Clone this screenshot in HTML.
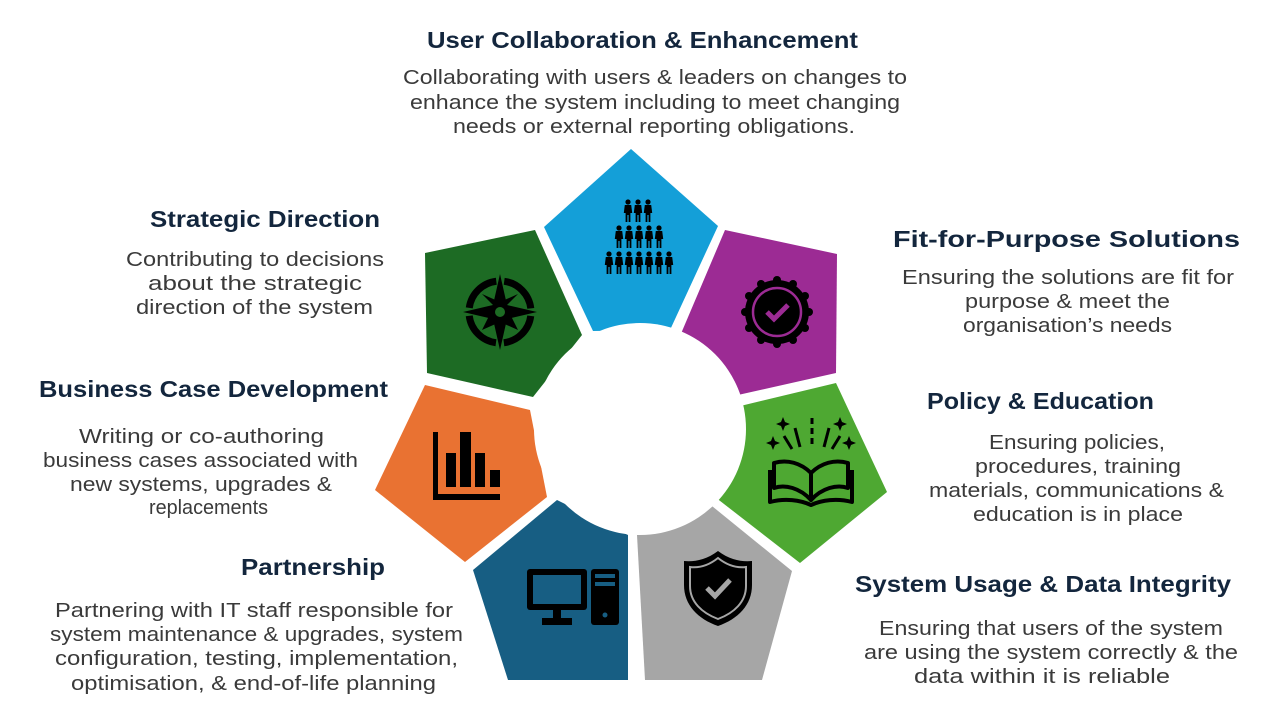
<!DOCTYPE html>
<html><head><meta charset="utf-8"><style>
html,body{margin:0;padding:0;background:#fff;}
svg{display:block;}
.h{font-family:"Liberation Sans",sans-serif;font-weight:bold;font-size:23px;fill:#13263d;}
.b{font-family:"Liberation Sans",sans-serif;font-size:20.5px;fill:#3a3a3a;}
</style></head><body>
<svg width="1280" height="720" viewBox="0 0 1280 720" xmlns="http://www.w3.org/2000/svg">
<defs>
<g id="p">
<circle cx="0" cy="0" r="2.6"/>
<path d="M-3.2,3 L3.2,3 L4.2,11 L2.4,11 L2.4,20 L0.6,20 L0.6,13 L-0.6,13 L-0.6,20 L-2.4,20 L-2.4,11 L-4.2,11 Z"/>
</g>
</defs>
<polygon points="631,149 718,226 670,330 593,331 544,227" fill="#149fd8"/>
<polygon points="725,230 837,254 836,373 729,397 680,336" fill="#9c2b94"/>
<polygon points="732,408 836,383 887,492 800,563 715,497" fill="#4ea832"/>
<polygon points="707,502 792,571 762,680 645,680 637,535" fill="#a6a6a6"/>
<polygon points="628,535 557,500 473,570 508,680 628,680" fill="#175e83"/>
<polygon points="425,385 530,410 547,497 465,562 375,490" fill="#e97232"/>
<polygon points="425,253 535,230 582,335 533,397 427,373" fill="#1d6b24"/>
<circle cx="640" cy="429" r="106" fill="#fff"/>

<g fill="#000">
<use href="#p" x="628" y="202"/><use href="#p" x="638" y="202"/><use href="#p" x="648" y="202"/>
<use href="#p" x="619" y="228"/><use href="#p" x="629" y="228"/><use href="#p" x="639" y="228"/><use href="#p" x="649" y="228"/><use href="#p" x="659" y="228"/>
<use href="#p" x="609" y="254"/><use href="#p" x="619" y="254"/><use href="#p" x="629" y="254"/><use href="#p" x="639" y="254"/><use href="#p" x="649" y="254"/><use href="#p" x="659" y="254"/><use href="#p" x="669" y="254"/>
</g>

<g transform="translate(500,312)">
<circle r="31" fill="none" stroke="#000" stroke-width="7" stroke-dasharray="40.7 8" stroke-dashoffset="-4"/>
<polygon points="0,-38 7,-7 37,0 7,7 0,38 -7,7 -37,0 -7,-7" fill="#000"/>
<polygon points="-6,-6 -18,-18 0,-10 18,-18 6,-6 18,18 0,10 -18,18" fill="#000"/>
<circle r="5" fill="#1d6b24"/>
</g>

<g transform="translate(777,312)">
<circle r="32" fill="#000"/>
<g fill="#000">
<circle cx="0" cy="-32" r="4"/><circle cx="16" cy="-28" r="4"/><circle cx="28" cy="-16" r="4"/><circle cx="32" cy="0" r="4"/><circle cx="28" cy="16" r="4"/><circle cx="16" cy="28" r="4"/><circle cx="0" cy="32" r="4"/><circle cx="-16" cy="28" r="4"/><circle cx="-28" cy="16" r="4"/><circle cx="-32" cy="0" r="4"/><circle cx="-28" cy="-16" r="4"/><circle cx="-16" cy="-28" r="4"/>
</g>
<circle r="24" fill="none" stroke="#9c2b94" stroke-width="2.5"/>
<polyline points="-10,0 -3,7 11,-7" fill="none" stroke="#9c2b94" stroke-width="5"/>
</g>

<g fill="none" stroke="#000" stroke-width="4" stroke-linejoin="round">
<path d="M811,500 C800,488 785,484 774,488 L774,463 C787,459 801,463 811,473 Z" fill="#4ea832"/>
<path d="M811,500 C822,488 837,484 848,488 L848,463 C835,459 821,463 811,473 Z" fill="#4ea832"/>
<path d="M770,470 L770,502 C785,498 800,500 811,505 C822,500 837,498 852,502 L852,470"/>
<line x1="811" y1="474" x2="811" y2="500"/>
<line x1="812" y1="418" x2="812" y2="448" stroke-dasharray="6 4" stroke-width="3"/>
<line x1="795" y1="428" x2="800" y2="447" stroke-width="3"/>
<line x1="829" y1="428" x2="824" y2="447" stroke-width="3"/>
<line x1="784" y1="436" x2="792" y2="449" stroke-width="3"/>
<line x1="840" y1="436" x2="832" y2="449" stroke-width="3"/>
</g>
<g fill="#000">
<polygon points="783,417 785,422 790,424 785,426 783,431 781,426 776,424 781,422"/>
<polygon points="840,417 842,422 847,424 842,426 840,431 838,426 833,424 838,422"/>
<polygon points="773,436 775,441 780,443 775,445 773,450 771,445 766,443 771,441"/>
<polygon points="849,436 851,441 856,443 851,445 849,450 847,445 842,443 847,441"/>
</g>

<path d="M718,551 C730,560 742,562 752,561 L752,585 C752,605 738,619 718,626 C698,619 684,605 684,585 L684,561 C694,562 706,560 718,551 Z" fill="#000"/>
<path d="M718,558 C728,566 738,568 746,567 L746,586 C746,602 734,613 718,619 C702,613 690,602 690,586 L690,567 C698,568 708,566 718,558 Z" fill="none" stroke="#a6a6a6" stroke-width="2"/>
<polyline points="707,588 715,596 730,580" fill="none" stroke="#a6a6a6" stroke-width="5"/>

<rect x="527" y="569" width="60" height="41" rx="3" fill="#000"/>
<rect x="533" y="575" width="48" height="29" fill="#175e83"/>
<rect x="553" y="609" width="8" height="10" fill="#000"/>
<rect x="542" y="618" width="30" height="7" fill="#000"/>
<rect x="591" y="569" width="28" height="56" rx="3" fill="#000"/>
<rect x="595" y="574" width="20" height="4" fill="#175e83"/>
<rect x="595" y="582" width="20" height="4" fill="#175e83"/>
<circle cx="605" cy="615" r="2.5" fill="#175e83"/>

<g fill="#000">
<rect x="433" y="432" width="5" height="68"/>
<rect x="433" y="494" width="67" height="6"/>
<rect x="446" y="453" width="10" height="34"/>
<rect x="460" y="432" width="11" height="55"/>
<rect x="475" y="453" width="10" height="34"/>
<rect x="490" y="470" width="10" height="17"/>
</g>

<text class="h" x="427" y="48" textLength="431" lengthAdjust="spacingAndGlyphs">User Collaboration &amp; Enhancement</text>
<text class="b" x="403" y="84" textLength="504" lengthAdjust="spacingAndGlyphs">Collaborating with users &amp; leaders on changes to</text>
<text class="b" x="410" y="109" textLength="490" lengthAdjust="spacingAndGlyphs">enhance the system including to meet changing</text>
<text class="b" x="453" y="133" textLength="402" lengthAdjust="spacingAndGlyphs">needs or external reporting obligations.</text>

<text class="h" x="150" y="227" textLength="230" lengthAdjust="spacingAndGlyphs">Strategic Direction</text>
<text class="b" x="126" y="266" textLength="258" lengthAdjust="spacingAndGlyphs">Contributing to decisions</text>
<text class="b" x="148" y="290" textLength="214" lengthAdjust="spacingAndGlyphs">about the strategic</text>
<text class="b" x="136" y="314" textLength="237" lengthAdjust="spacingAndGlyphs">direction of the system</text>

<text class="h" x="893" y="247" textLength="347" lengthAdjust="spacingAndGlyphs">Fit-for-Purpose Solutions</text>
<text class="b" x="902" y="284" textLength="332" lengthAdjust="spacingAndGlyphs">Ensuring the solutions are fit for</text>
<text class="b" x="965" y="308" textLength="205" lengthAdjust="spacingAndGlyphs">purpose &amp; meet the</text>
<text class="b" x="963" y="332" textLength="209" lengthAdjust="spacingAndGlyphs">organisation’s needs</text>

<text class="h" x="927" y="409" textLength="227" lengthAdjust="spacingAndGlyphs">Policy &amp; Education</text>
<text class="b" x="989" y="449" textLength="176" lengthAdjust="spacingAndGlyphs">Ensuring policies,</text>
<text class="b" x="975" y="473" textLength="206" lengthAdjust="spacingAndGlyphs">procedures, training</text>
<text class="b" x="929" y="497" textLength="295" lengthAdjust="spacingAndGlyphs">materials, communications &amp;</text>
<text class="b" x="973" y="521" textLength="210" lengthAdjust="spacingAndGlyphs">education is in place</text>

<text class="h" x="855" y="592" textLength="376" lengthAdjust="spacingAndGlyphs">System Usage &amp; Data Integrity</text>
<text class="b" x="879" y="635" textLength="344" lengthAdjust="spacingAndGlyphs">Ensuring that users of the system</text>
<text class="b" x="864" y="659" textLength="374" lengthAdjust="spacingAndGlyphs">are using the system correctly &amp; the</text>
<text class="b" x="914" y="683" textLength="256" lengthAdjust="spacingAndGlyphs">data within it is reliable</text>

<text class="h" x="241" y="575" textLength="144" lengthAdjust="spacingAndGlyphs">Partnership</text>
<text class="b" x="55" y="617" textLength="398" lengthAdjust="spacingAndGlyphs">Partnering with IT staff responsible for</text>
<text class="b" x="50" y="641" textLength="413" lengthAdjust="spacingAndGlyphs">system maintenance &amp; upgrades, system</text>
<text class="b" x="55" y="665" textLength="403" lengthAdjust="spacingAndGlyphs">configuration, testing, implementation,</text>
<text class="b" x="71" y="690" textLength="365" lengthAdjust="spacingAndGlyphs">optimisation, &amp; end-of-life planning</text>

<text class="h" x="39" y="397" textLength="349" lengthAdjust="spacingAndGlyphs">Business Case Development</text>
<text class="b" x="79" y="443" textLength="245" lengthAdjust="spacingAndGlyphs">Writing or co-authoring</text>
<text class="b" x="43" y="467" textLength="315" lengthAdjust="spacingAndGlyphs">business cases associated with</text>
<text class="b" x="70" y="491" textLength="262" lengthAdjust="spacingAndGlyphs">new systems, upgrades &amp;</text>
<text class="b" x="149" y="514" textLength="119" lengthAdjust="spacingAndGlyphs">replacements</text>
</svg>
</body></html>
